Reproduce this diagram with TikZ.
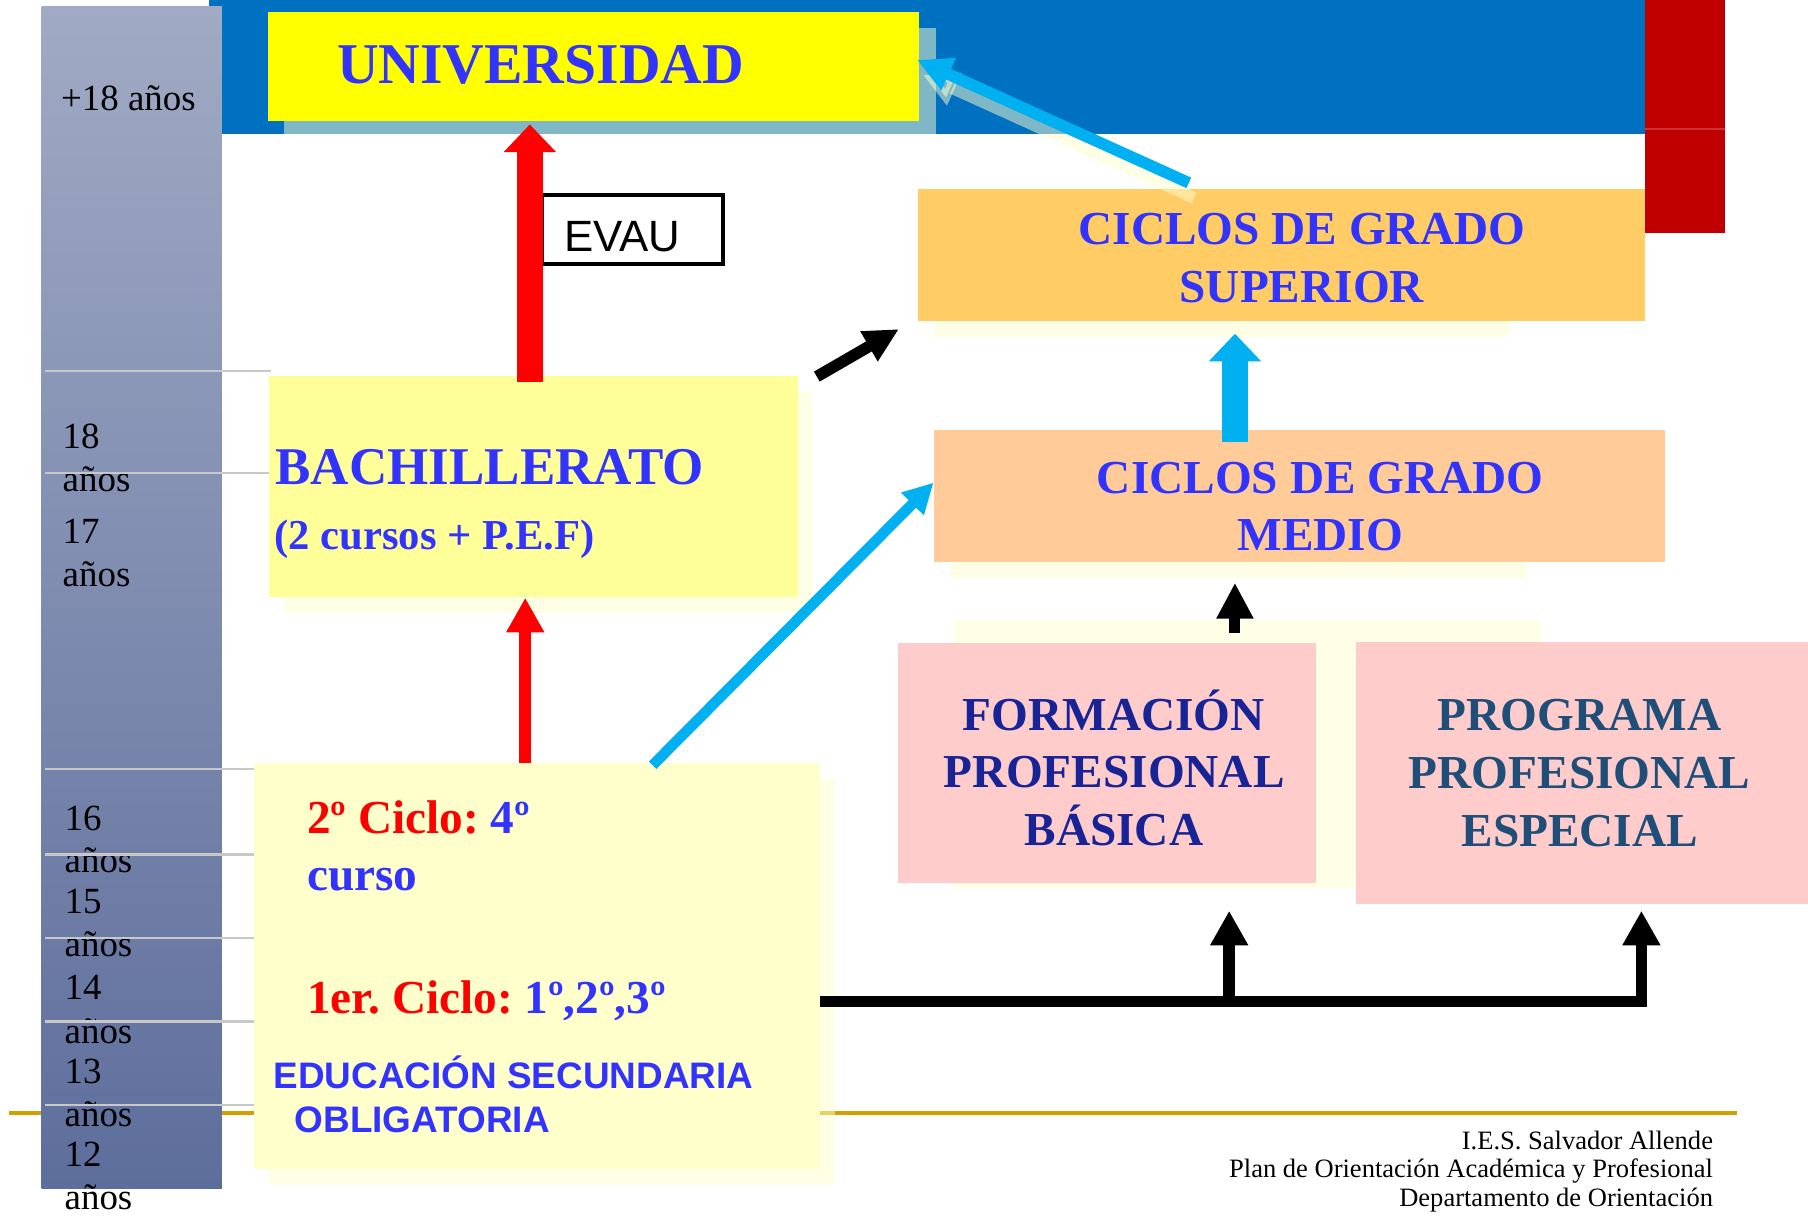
\documentclass[tikz,border=0pt]{standalone}
\usepackage{fontspec}
\setmainfont{Liberation Serif}
\setsansfont{Liberation Sans}
\usetikzlibrary{arrows.meta, positioning}
\frenchspacing

\definecolor{bandblue}{RGB}{0,112,192}
\definecolor{bandred}{RGB}{192,0,0}
\definecolor{txtblue}{RGB}{51,51,255}
\definecolor{navy}{RGB}{24,36,150}
\definecolor{slate}{RGB}{31,78,121}
\definecolor{skyarrow}{RGB}{0,176,240}
\definecolor{gold}{RGB}{210,160,0}
\definecolor{rulegrey}{RGB}{200,200,200}
\definecolor{paleyellow}{RGB}{255,255,204}
\definecolor{barTop}{RGB}{160,170,196}
\definecolor{barBot}{RGB}{94,110,156}
\definecolor{univfill}{RGB}{255,255,0}
\definecolor{bachfill}{RGB}{255,255,153}
\definecolor{esofill}{RGB}{255,255,204}
\definecolor{supfill}{RGB}{255,204,102}
\definecolor{mediofill}{RGB}{255,204,153}
\definecolor{fpfill}{RGB}{255,204,204}

\begin{document}
\begin{tikzpicture}[x=0.5pt, y=-0.5pt,
    box/.style={rectangle, inner sep=0pt, fill=#1},
    ghost/.style={fill=paleyellow, fill opacity=0.5},
    boxtext/.style={inner sep=0pt, align=center, font=\fontsize{20.5pt}{25pt}\selectfont\bfseries},
    lefttext/.style={anchor=base west, inner sep=0pt},
    age/.style={lefttext, font=\fontsize{16pt}{18pt}\selectfont},
    footer/.style={anchor=base east, inner sep=0pt, font=\fontsize{11.5pt}{13pt}\selectfont},
    wide arrow/.style={line width=11.5pt, -{Triangle[width=22pt,length=12pt]}},
    slim arrow/.style={line width=5pt, -{Triangle[width=#1,length=15pt]}},
  ]
  \useasboundingbox (0,0) rectangle (1568,1054);
  \clip (0,0) rectangle (1568,1054);

  % background bands
  \fill[bandblue] (181,0) rectangle (1427,116.5);
  \fill[bandred] (1427,0) rectangle (1496,202);
  \draw[bandred!80!white, line width=0.6pt] (1427,112) -- (1496,112);
  \draw[gold, line width=1.75pt] (8,965) -- (1506,965);

  % age scale
  \shade[top color=barTop, bottom color=barBot] (36,6) rectangle (192.5,1030.5);
  \node[age] (plus18) at (52.6,95.4) {+18 años};
  \foreach \yb/\t [count=\i] in {389/18, 426/años, 471/17, 509/años}
    \node[age] (agea\i) at (54,\yb) {\t};
  \foreach \yb/\t [count=\i] in {720/16, 757/años, 792/15, 829.6/años, 867/14,
      904.6/años, 939.5/13, 977/años, 1011.8/12, 1049/años}
    \node[age] (ageb\i) at (55.7,\yb) {\t};
  \foreach \yy/\xe in {321.5/235, 410.5/235, 667/228, 741/228, 813.5/228, 886/228, 958.6/228}
    \draw[rulegrey, line width=1pt] (39,\yy) -- (\xe,\yy);

  % shadows
  \fill[ghost] (246,24) rectangle (812,116.5);
  \fill[ghost] (246,340) rectangle (704,532);
  \fill[ghost] (233,676) rectangle (724,1028);
  \fill[ghost] (810,180) rectangle (1309,292);
  \fill[ghost] (824,390) rectangle (1323,501);
  \fill[ghost] (827,538) rectangle (1336,770);

  % boxes
  \node[box=univfill, minimum width=282.5pt, minimum height=47.5pt] (univ) at (514.5,57.5) {};
  \node[box=bachfill, minimum width=229.5pt, minimum height=96pt] (bach) at (462.5,422) {};
  \node[box=esofill, minimum width=245.5pt, minimum height=176pt] (eso) at (465.5,838) {};
  \node[box=supfill, minimum width=315.5pt, minimum height=57pt] (sup) at (1111.5,221) {};
  \node[box=mediofill, minimum width=317pt, minimum height=57pt] (medio) at (1127,430) {};
  \node[box=fpfill, minimum width=181pt, minimum height=104pt] (fpb) at (960,662) {};
  \node[box=fpfill, minimum width=200pt, minimum height=113.5pt] (ppe) at (1376,670.5) {};
  \node[draw, fill=white, line width=1.5pt, minimum width=78.5pt, minimum height=30pt,
        text width=59pt, inner xsep=9.4pt, inner ysep=0pt, align=left,
        text height=19.3pt, text depth=0pt, font=\sffamily\fontsize{19pt}{22pt}\selectfont]
        (evau) at (548.5,199) {EVAU};

  % arrows
  \draw[red, wide arrow] ([shift={(-1.5pt,-3pt)}]bach.north)
    -- ([shift={(-1.5pt,-1.25pt)}]bach.north |- univ.south);
  \draw[red, line width=5pt, -{Triangle[width=15.5pt,length=15pt]}]
    ([xshift=-5pt]eso.north) -- ([xshift=-5pt]eso.north |- bach.south);
  \draw[black, slim arrow=14pt] ([shift={(8pt,-0.5pt)}]bach.north east)
    -- ([shift={(-8pt,-3.5pt)}]sup.south west);
  \draw[skyarrow, line width=4.6pt, -{Triangle[width=13pt,length=13pt]}]
    ([shift={(50.25pt,-1pt)}]eso.north) -- ([yshift=5.7pt]medio.west);
  \draw[paleyellow, opacity=0.5, line width=5pt, -{Triangle[width=14.5pt,length=15pt]}]
    ([shift={(-38pt,-4pt)}]sup.north) -- ([shift={(1.5pt,-3.75pt)}]univ.east);
  \draw[skyarrow, line width=5pt, -{Triangle[width=14.5pt,length=15pt]}]
    ([shift={(-40.25pt,2.5pt)}]sup.north) -- ([shift={(-1pt,2.75pt)}]univ.east);
  \draw[skyarrow, wide arrow] ([shift={(-28pt,-5.25pt)}]medio.north)
    -- ([shift={(-28pt,-5.5pt)}]medio.north |- sup.south);
  \draw[black, line width=4.75pt, -{Triangle[width=15pt,length=15.5pt]}]
    ([shift={(-28pt,-31pt)}]medio.south) -- ([shift={(-28pt,-9pt)}]medio.south);

  \coordinate (fork1) at (1066,868.5);
  \coordinate (fork2) at (1423.5,868.5);
  \draw[black, slim arrow=15.5pt, line join=miter]
    (eso.east |- fork1) -- (fork2) -- ([yshift=-11.75pt]fork2 |- fpb.south);
  \draw[black, slim arrow=15.5pt] (fork1) -- ([yshift=-11.75pt]fork1 |- fpb.south);

  % texts
  \node[lefttext, text=txtblue, font=\fontsize{25pt}{30pt}\selectfont\bfseries]
    (univ-t) at (292,72.3) {UNIVERSIDAD};
  \node[lefttext, text=txtblue, font=\fontsize{23pt}{27pt}\selectfont\bfseries]
    (bach-t) at (238.5,420.6) {BACHILLERATO};
  \node[lefttext, text=txtblue, font=\fontsize{18.5pt}{22pt}\selectfont\bfseries]
    (bach-s) at (237.6,476.4) {(2 cursos + P.E.F)};
  \node[boxtext, text=txtblue] (sup-t) at (1129,224) {CICLOS DE GRADO\\SUPERIOR};
  \node[boxtext, text=txtblue] (medio-t) at (1145,439.4) {CICLOS DE GRADO\\MEDIO};
  \node[boxtext, text=navy] (fpb-t) at (966,666) {FORMACIÓN\\PROFESIONAL\\BÁSICA};
  \node[boxtext, text=slate] (ppe-t) at (1370,670.5) {PROGRAMA\\PROFESIONAL\\ESPECIAL};

  \node[lefttext, text=txtblue, font=\fontsize{20.5pt}{25pt}\selectfont\bfseries]
    (ciclo2) at (266,722.7) {\textcolor{red}{2º Ciclo:} 4º};
  \node[lefttext, text=txtblue, font=\fontsize{20.5pt}{25pt}\selectfont\bfseries]
    (curso) at (266,771.9) {curso};
  \node[lefttext, text=txtblue, font=\fontsize{20.5pt}{25pt}\selectfont\bfseries]
    (ciclo1) at (266,878.8) {\textcolor{red}{1er. Ciclo:} 1º,2º,3º};
  \node[lefttext, text=txtblue, font=\sffamily\bfseries\fontsize{16pt}{19pt}\selectfont]
    (eso-t) at (237,943.9) {EDUCACIÓN SECUNDARIA};
  \node[lefttext, text=txtblue, font=\sffamily\bfseries\fontsize{16pt}{19pt}\selectfont]
    (eso-s) at (255.3,982.3) {OBLIGATORIA};

  \node[footer] (foot1) at (1486,997) {I.E.S. Salvador Allende};
  \node[footer] (foot2) at (1486,1021.5) {Plan de Orientación Académica y Profesional};
  \node[footer] (foot3) at (1486,1046) {Departamento de Orientación};
\end{tikzpicture}
\end{document}
